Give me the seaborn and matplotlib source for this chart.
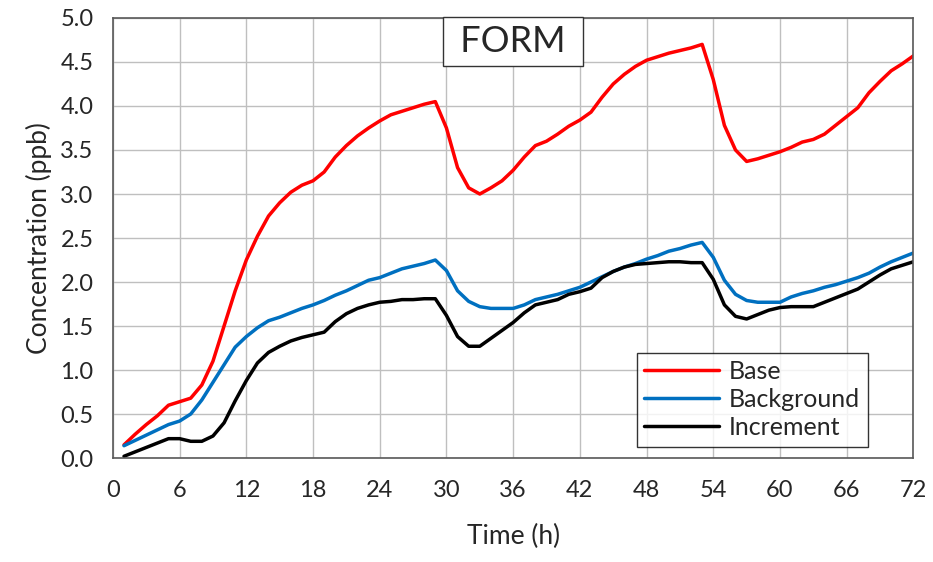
import seaborn as sns
import pandas as pd, numpy as np
import matplotlib.pyplot as plt

hours = list(range(1, 73))

base = [0.15, 0.27, 0.38, 0.48, 0.60, 0.64, 0.68, 0.83, 1.10, 1.50,
        1.90, 2.25, 2.52, 2.75, 2.90, 3.02, 3.10, 3.15, 3.25, 3.42,
        3.55, 3.66, 3.75, 3.83, 3.90, 3.94, 3.98, 4.02, 4.05, 3.75,
        3.30, 3.07, 3.00, 3.07, 3.15, 3.27, 3.42, 3.55, 3.60, 3.68,
        3.77, 3.84, 3.93, 4.10, 4.25, 4.36, 4.45, 4.52, 4.56, 4.60,
        4.63, 4.66, 4.70, 4.30, 3.78, 3.50, 3.37, 3.40, 3.44, 3.48,
        3.53, 3.59, 3.62, 3.68, 3.78, 3.88, 3.98, 4.15, 4.28, 4.40,
        4.48, 4.57]

background = [0.14, 0.20, 0.26, 0.32, 0.38, 0.42, 0.50, 0.66, 0.86, 1.06,
              1.26, 1.38, 1.48, 1.56, 1.60, 1.65, 1.70, 1.74, 1.79, 1.85,
              1.90, 1.96, 2.02, 2.05, 2.10, 2.15, 2.18, 2.21, 2.25, 2.13,
              1.90, 1.78, 1.72, 1.70, 1.70, 1.70, 1.74, 1.80, 1.83, 1.86,
              1.90, 1.94, 2.00, 2.06, 2.12, 2.17, 2.21, 2.26, 2.30, 2.35,
              2.38, 2.42, 2.45, 2.28, 2.02, 1.86, 1.79, 1.77, 1.77, 1.77,
              1.83, 1.87, 1.90, 1.94, 1.97, 2.01, 2.05, 2.10, 2.17, 2.23,
              2.28, 2.33]

increment = [0.02, 0.07, 0.12, 0.17, 0.22, 0.22, 0.19, 0.19, 0.25, 0.40,
             0.65, 0.88, 1.08, 1.20, 1.27, 1.33, 1.37, 1.40, 1.43, 1.55,
             1.64, 1.70, 1.74, 1.77, 1.78, 1.80, 1.80, 1.81, 1.81, 1.62,
             1.38, 1.27, 1.27, 1.36, 1.45, 1.54, 1.65, 1.74, 1.77, 1.80,
             1.86, 1.89, 1.93, 2.05, 2.12, 2.17, 2.20, 2.21, 2.22, 2.23,
             2.23, 2.22, 2.22, 2.03, 1.74, 1.61, 1.58, 1.63, 1.68, 1.71,
             1.72, 1.72, 1.72, 1.77, 1.82, 1.87, 1.92, 2.00, 2.08, 2.15,
             2.19, 2.23]

x_ticks = list(range(0, 73, 6))
y_ticks = [i * 0.5 for i in range(11)]

df = pd.DataFrame({"Time": hours, "Base": base,
                   "Background": background, "Increment": increment})
long = df.melt(id_vars="Time", var_name="Series", value_name="Conc")

sns.set_style("white")
plt.rcParams['font.family'] = ['Lato', 'DejaVu Sans']

fig = plt.figure(figsize=(9.33, 5.62), dpi=100)
ax = fig.add_axes([0.121, 0.185, 0.858, 0.783])

sns.lineplot(data=long, x="Time", y="Conc", hue="Series", ax=ax,
             palette={"Base": "#ff0000", "Background": "#0070c0",
                      "Increment": "#000000"},
             linewidth=2.5)

ax.set_xlim(0, 72)
ax.set_ylim(0, 5)
ax.set_xticks(x_ticks)
ax.set_yticks(y_ticks)
ax.set_yticklabels([f"{v:.1f}" for v in y_ticks])
ax.tick_params(labelsize=17, length=0)
ax.tick_params(axis="x", pad=16)
ax.tick_params(axis="y", pad=14)
ax.grid(True, color="#bfbfbf", linewidth=1)
for s in ax.spines.values():
    s.set_color("#595959")
    s.set_linewidth(1.2)

ax.set_xlabel("Time (h)", fontsize=19, labelpad=16)
ax.set_ylabel("Concentration (ppb)", fontsize=19, labelpad=6)

# boxed label at the top
ax.text(0.5, 0.985, " FORM ", transform=ax.transAxes, ha="center", va="top",
        fontsize=26,
        bbox=dict(boxstyle="square,pad=0.22", fc="white", ec="#333333", lw=1))

leg = ax.legend(loc="lower right", bbox_to_anchor=(0.946, 0.02),
                fontsize=18, frameon=True, fancybox=False, title=None,
                handlelength=3.0, borderpad=0.3, labelspacing=0.2,
                handletextpad=0.4, borderaxespad=0.1)
leg.get_frame().set_edgecolor("#000000")
leg.get_frame().set_linewidth(1)

fig.savefig("out.png", dpi=100)
